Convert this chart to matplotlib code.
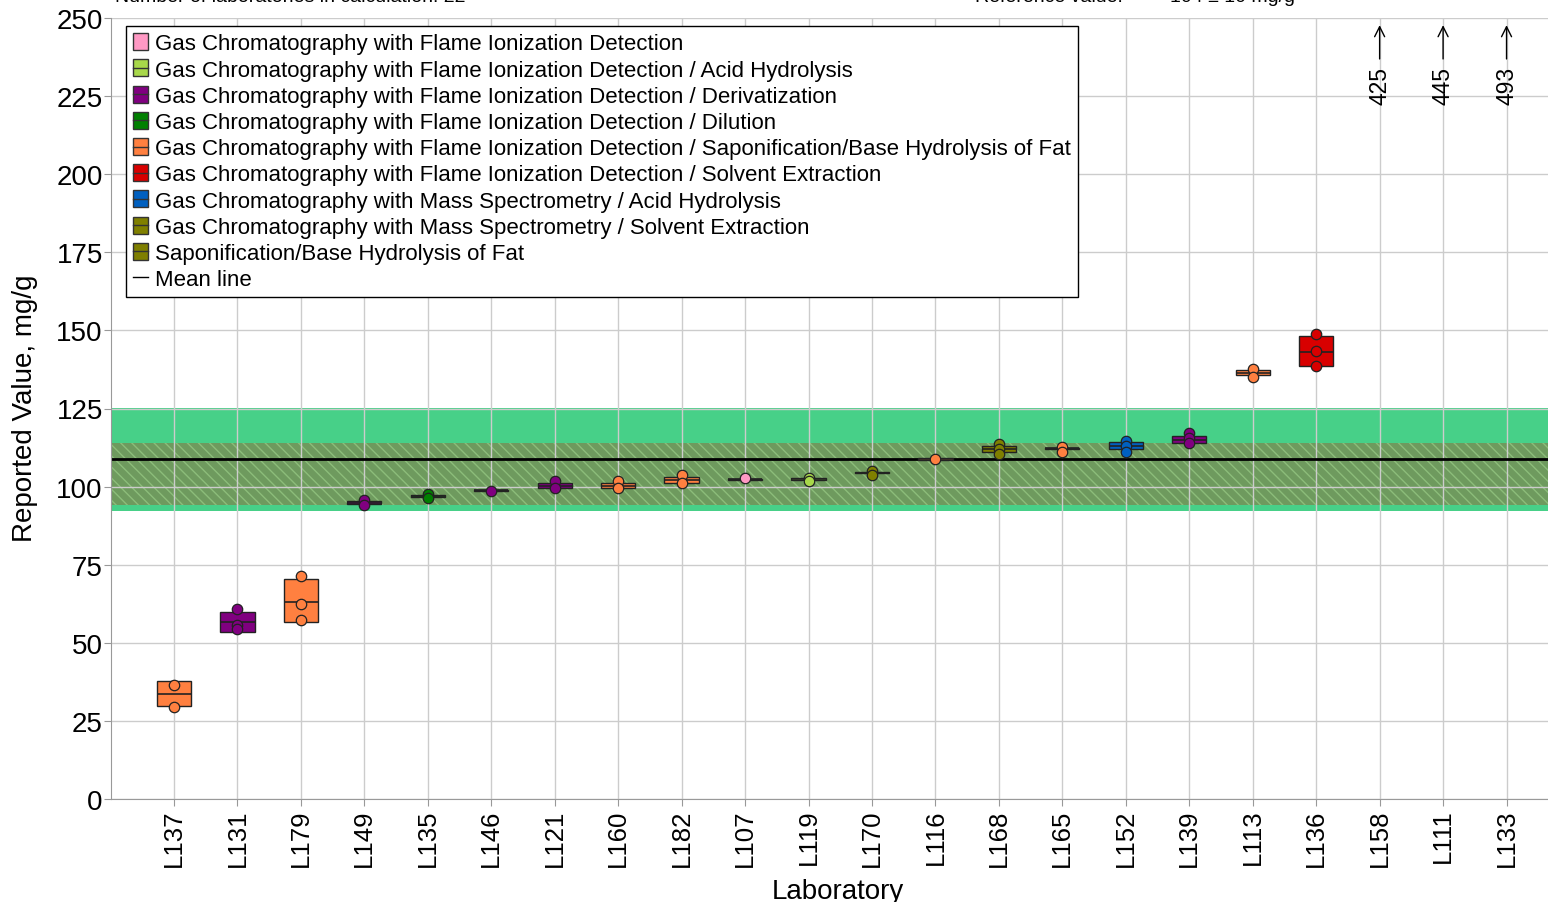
import matplotlib
matplotlib.use("Agg")
import matplotlib.pyplot as plt
from matplotlib.patches import Rectangle
from matplotlib.lines import Line2D
from matplotlib.legend_handler import HandlerBase

plt.rcParams['font.family'] = ['Liberation Sans', 'DejaVu Sans']

labs = ['L137', 'L131', 'L179', 'L149', 'L135', 'L146', 'L121', 'L160', 'L182', 'L107', 'L119',
        'L170', 'L116', 'L168', 'L165', 'L152', 'L139', 'L113', 'L136', 'L158', 'L111', 'L133']

methods = [
    'Gas Chromatography with Flame Ionization Detection',
    'Gas Chromatography with Flame Ionization Detection / Acid Hydrolysis',
    'Gas Chromatography with Flame Ionization Detection / Derivatization',
    'Gas Chromatography with Flame Ionization Detection / Dilution',
    'Gas Chromatography with Flame Ionization Detection / Saponification/Base Hydrolysis of Fat',
    'Gas Chromatography with Flame Ionization Detection / Solvent Extraction',
    'Gas Chromatography with Mass Spectrometry / Acid Hydrolysis',
    'Gas Chromatography with Mass Spectrometry / Solvent Extraction',
    'Saponification/Base Hydrolysis of Fat',
]
method_colors = ['#ff99c4', '#a8d84a', '#800080', '#008000', '#ff8040',
                 '#d80000', '#0060c0', '#808000', '#7f7f00']

# method index per lab (None for labs off the scale)
lab_method = [4, 2, 4, 2, 3, 2, 2, 4, 4, 0, 1, 7, 4, 8, 4, 6, 2, 4, 5, None, None, None]

# replicate results, mg/g
replicates = [
    [36.5, 29.4], [60.7, 55.8, 54.3], [71.4, 62.5, 57.2], [95.6, 94.2], [97.5, 96.4],
    [98.6], [101.7, 99.6], [101.7, 99.7], [103.8, 101.3], [102.6], [102.6, 101.8],
    [104.9, 103.8], [108.9], [113.5, 112.0, 110.5], [112.7, 111.1], [114.5, 112.9, 111.1],
    [117.0, 115.4, 113.8], [137.8, 135.1], [149.0, 143.4, 138.7], [425], [445], [493],
]
box_lo = [29.9, 53.6, 56.8, 94.5, 96.7, 98.6, 99.4, 99.4, 101.2, 102.2, 102.0,
          104.2, 108.6, 111.1, 111.9, 111.9, 113.8, 135.7, 138.7]
box_mid = [33.7, 56.6, 63.2, 94.9, 97.0, 98.8, 100.3, 100.2, 102.1, 102.3, 102.3,
           104.4, 108.8, 112.0, 112.2, 113.1, 115.0, 136.5, 143.2]
box_hi = [37.9, 60.0, 70.5, 95.3, 97.3, 99.0, 101.2, 101.0, 103.1, 102.4, 102.6,
          104.6, 109.0, 112.9, 112.5, 114.3, 116.3, 137.3, 148.3]

mean_value = 108.9
outer_band = (92.3, 125.2)
ref_band = (94.2, 114.0)
n_labs = 22
ref_text = '104 ± 10 mg/g'


class BoxHandler(HandlerBase):
    """Legend key: filled box with a median line across it."""
    def __init__(self, color, midline=True):
        super().__init__()
        self.color = color
        self.midline = midline

    def create_artists(self, legend, orig_handle, xdescent, ydescent, width, height,
                       fontsize, trans):
        x0, y0 = -xdescent, -ydescent
        r = Rectangle((x0, y0), width, height, facecolor=self.color, edgecolor='#333333',
                      lw=1, transform=trans)
        arts = [r]
        if self.midline:
            arts.append(Line2D([x0, x0 + width], [y0 + height / 2] * 2, color='#333333',
                               lw=1, transform=trans))
        return arts


W, H = 1548, 903
fig = plt.figure(figsize=(W / 100, H / 100), dpi=100)
ax = fig.add_axes([110.5 / W, 103 / H, (1570 - 110.5) / W, 781 / H])
ax.set_xlim(-1, 22)
ax.set_ylim(0, 250)

# consensus bands
ax.axhspan(*outer_band, color='#47d088', lw=0, zorder=1)
ax.axhspan(*ref_band, facecolor='#6e9a5e', edgecolor='#8cbd7a', hatch='\\\\\\', lw=0, zorder=1.1)
ax.axhline(mean_value, color='black', lw=2, zorder=2)

bw = 0.54
for i, lab in enumerate(labs):
    m = lab_method[i]
    vals = replicates[i]
    if m is None:
        ax.annotate('', xy=(i, 248.6), xytext=(i, 236),
                    arrowprops=dict(arrowstyle='->', color='black', lw=1, mutation_scale=18))
        ax.text(i, 228.5, str(vals[0]), rotation=90, ha='center', va='center', fontsize=16.5)
        continue
    c = method_colors[m]
    ax.bar(i, box_hi[i] - box_lo[i], bottom=box_lo[i], width=bw, color=c,
           edgecolor='#222222', lw=1, zorder=3)
    ax.hlines(box_mid[i], i - bw / 2, i + bw / 2, color='#222222', lw=1.2, zorder=3.5)
    ax.plot([i] * len(vals), vals, 'o', ms=7.5, mfc=c, mec='#222222', mew=0.9, zorder=4)

ax.set_xticks(range(len(labs)))
ax.set_xticklabels(labs, rotation=90, fontsize=18.5)
ax.set_yticks(range(0, 251, 25))
ax.tick_params(axis='y', labelsize=20, length=5, color='#999999', pad=0.5)
ax.tick_params(axis='x', length=5, color='#999999', pad=2)
ax.set_axisbelow('line')
ax.grid(True, color='#cccccc', lw=1)
for s in ['top', 'right']:
    ax.spines[s].set_visible(False)
for s in ['left', 'bottom']:
    ax.spines[s].set_color('#999999')

fig.text(25 / W, 1 - 408 / H, 'Reported Value, mg/g', rotation=90, ha='center', va='center', fontsize=20)
fig.text(838 / W, 4 / H, 'Laboratory', ha='center', va='baseline', fontsize=20)

fig.text(115 / W, 1 - 2 / H, 'Number of laboratories in calculation: %d' % n_labs,
         ha='left', va='baseline', fontsize=14)
fig.text(975 / W, 1 - 2 / H, 'Reference value:', ha='left', va='baseline', fontsize=14)
fig.text(1170 / W, 1 - 2 / H, ref_text, ha='left', va='baseline', fontsize=14)

handles = [Rectangle((0, 0), 1, 1) for _ in method_colors]
handler_map = {h: BoxHandler(c, midline=(j > 0))
               for j, (h, c) in enumerate(zip(handles, method_colors))}
handles.append(Line2D([], [], color='black', lw=1))
labels = methods + ['Mean line']
leg = fig.legend(handles, labels, loc='upper left', bbox_to_anchor=(126 / W, 1 - 27 / H),
                 fontsize=16, frameon=True, fancybox=False, framealpha=1, edgecolor='black',
                 handlelength=0.68, handleheight=0.8, handletextpad=0.32, labelspacing=0.225,
                 borderpad=0.32, borderaxespad=0, handler_map=handler_map)
leg.get_frame().set_linewidth(1)

fig.savefig('out.png', dpi=100)
